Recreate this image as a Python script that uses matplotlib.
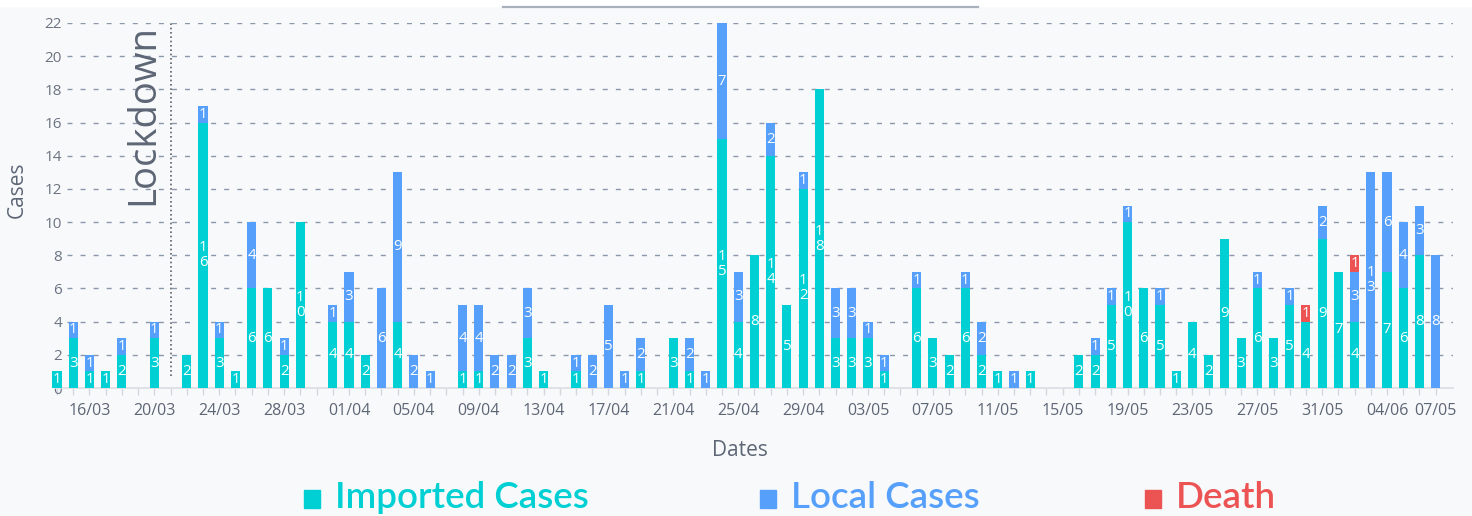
import pandas as pd
import numpy as np
import matplotlib
matplotlib.use('Agg')
import matplotlib.pyplot as plt
from matplotlib.patches import Rectangle
from matplotlib.lines import Line2D

# === Data ===
dates = [d.strftime('%d/%m') for d in pd.date_range('2020-03-14', '2020-06-07')]
dates[-1] = '07/05'  # last label is printed like this on the original chart

imported = [
    # March 14-31
    1, 3, 1, 1, 2, 0, 3, 0, 2, 16, 3, 1, 6, 6, 2, 10, 0, 4,
    # April
    4, 2, 0, 4, 0, 0, 0, 1, 1, 0, 0, 3, 1, 0, 1, 0, 0, 0, 1, 0,
    3, 1, 0, 15, 4, 8, 14, 5, 12, 18,
    # May
    3, 3, 3, 1, 0, 6, 3, 2, 6, 2, 1, 0, 1, 0, 0, 2, 2, 5, 10, 6,
    5, 1, 4, 2, 9, 3, 6, 3, 5, 4, 9,
    # June 1-7
    7, 4, 0, 7, 6, 8, 0,
]
local = [
    0, 1, 1, 0, 1, 0, 1, 0, 0, 1, 1, 0, 4, 0, 1, 0, 0, 1,
    3, 0, 6, 9, 2, 1, 0, 4, 4, 2, 2, 3, 0, 0, 1, 2, 5, 1, 2, 0,
    0, 2, 1, 7, 3, 0, 2, 0, 1, 0,
    3, 3, 1, 1, 0, 1, 0, 0, 1, 2, 0, 1, 0, 0, 0, 0, 1, 1, 1, 0,
    1, 0, 0, 0, 0, 0, 1, 0, 1, 0, 2,
    0, 3, 13, 6, 4, 3, 8,
]
death_by_day = {'30/05': 1, '02/06': 1}
death = [death_by_day.get(d, 0) for d in dates]

lockdown_day = '21/03'
y_ticks = list(range(0, 23, 2))

# === Style ===
C_IMP = '#00d0d3'
C_LOC = '#56a0fb'
C_DEA = '#ec5454'
BG = '#f8f9fb'
TXT = '#5d6675'
plt.rcParams['font.family'] = ['Open Sans', 'DejaVu Sans']

W, H = 1472, 516
fig = plt.figure(figsize=(W / 100, H / 100), dpi=100, facecolor=BG)

# axes placed in pixels
px_left, px_right, px_top, px_bot = 55, 1453, 23, 388
ax = fig.add_axes([px_left / W, 1 - px_bot / H,
                   (px_right - px_left) / W, (px_bot - px_top) / H])
ax.set_facecolor(BG)

x = np.arange(len(dates))
step = 16.22  # px per category
ax.set_xlim((px_left - 57) / step, (px_right - 57) / step)
ax.set_ylim(0, 22)

imp = np.array(imported)
loc = np.array(local)
dea = np.array(death)
bw = 0.56

# grid lines (start a bit right of the y labels)
ax.hlines(y_ticks[1:], (67 - 57) / step, ax.get_xlim()[1], colors='#8b98aa',
          linewidth=1.0, linestyles=(0, (3.6, 5.8)), zorder=1)

for vals, bottom, col in [(imp, 0, C_IMP), (loc, imp, C_LOC), (dea, imp + loc, C_DEA)]:
    ax.bar(x, vals, bw, bottom=bottom, color=col, zorder=3, clip_on=False)
    bottoms = np.zeros(len(x)) + bottom
    for i, v in enumerate(vals):
        if v > 0:
            ax.text(i, bottoms[i] + v / 2, '\n'.join(str(v)), color='white',
                    fontsize=10.8, ha='center', va='center', linespacing=1.0,
                    zorder=4, clip_on=False)

# lockdown marker
li = dates.index(lockdown_day)
ax.vlines(li, 0.7, 22, colors='#5a606b', linewidth=1.2,
          linestyles=(0, (1, 1.6)), zorder=2)
ax.annotate('Lockdown', xy=(li, 22), xytext=(-6, -1), textcoords='offset points',
            rotation=90, ha='right', va='top', fontsize=27.5, color=TXT)

# axes styling
for s in ['top', 'right', 'left']:
    ax.spines[s].set_visible(False)
ax.spines['bottom'].set_color('#dcdfe4')
ax.spines['bottom'].set_linewidth(1.3)
ax.spines['bottom'].set_zorder(2)

ax.set_yticks(y_ticks)
ax.tick_params(axis='y', length=0, pad=-5, labelsize=11, labelcolor='#6b7382')

tick_pos = list(range(2, len(dates), 4)) + [len(dates) - 1]
ax.set_xticks(x, minor=True)
ax.set_xticks(tick_pos)
ax.set_xticklabels([dates[i] for i in tick_pos])
ax.tick_params(axis='x', which='both', length=5, width=1, color='#d3d7dd')
ax.tick_params(axis='x', which='major', pad=6, labelsize=11.5, labelcolor='#5d6675')

fig.text(17 / W, 1 - 190 / H, 'Cases', rotation=90, ha='center', va='center',
         fontsize=15, color=TXT)
fig.text(740 / W, 1 - 450 / H, 'Dates', ha='center', va='center',
         fontsize=15, color=TXT)

# legend drawn by hand
legend = [('Imported Cases', C_IMP, 304), ('Local Cases', C_LOC, 760), ('Death', C_DEA, 1145)]
for lab, col, px in legend:
    fig.add_artist(Rectangle((px / W, 8 / H), 16 / W, 18 / H, color=col,
                             transform=fig.transFigure))
    fig.text((px + 31) / W, 8 / H, lab, color=col, fontsize=26.5,
             family=['Lato', 'DejaVu Sans'], fontweight='semibold', va='baseline')

# white strip and header underline at top
fig.add_artist(Rectangle((0, 1 - 6 / H), 1, 6 / H, color='white',
                         transform=fig.transFigure, zorder=0))
fig.add_artist(Line2D([503 / W, 978 / W], [1 - 6.5 / H, 1 - 6.5 / H],
                      color='#a9b0bb', linewidth=1.6, transform=fig.transFigure))

fig.savefig('out.png', dpi=100, facecolor=BG)
